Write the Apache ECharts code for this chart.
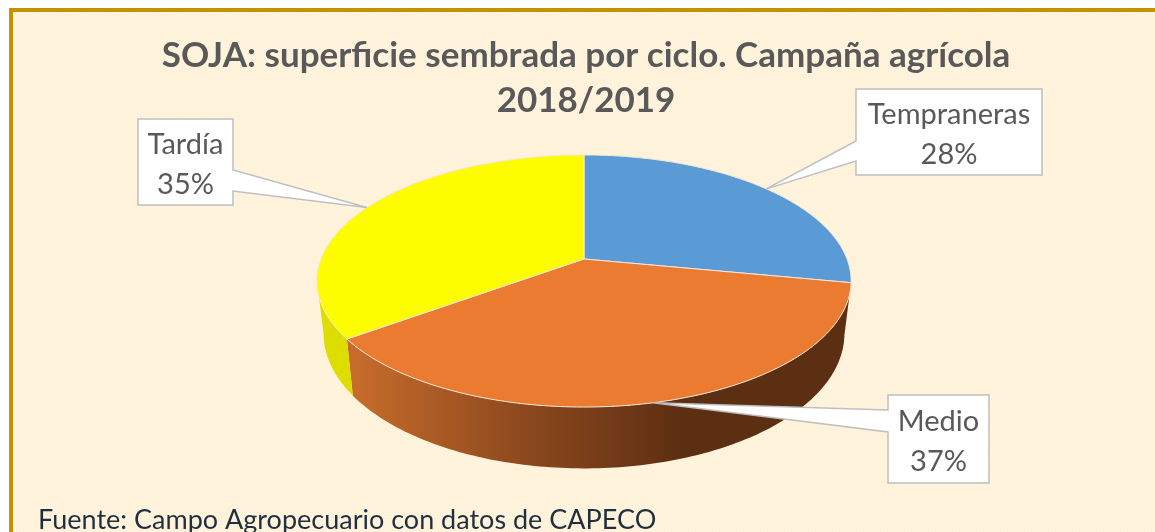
<!DOCTYPE html>
<html>
<head>
<meta charset="utf-8">
<style>
html,body{margin:0;padding:0;background:#fff;overflow:hidden}
#chart{width:1155px;height:532px}
</style>
<script src="https://cdn.jsdelivr.net/npm/echarts@6/dist/echarts.min.js"></script>
</head>
<body>
<div id="chart"></div>
<script>
const categories = ['Tempraneras', 'Medio', 'Tardía'];
const shares = [28, 37, 35];
const topColors = ['#5B9BD5', '#EB7B31', '#FDFD00'];
const titleLines = 'SOJA: superficie sembrada por ciclo. Campaña agrícola\n2018/2019';
const sourceText = 'Fuente: Campo Agropecuario con datos de CAPECO';

// label boxes: [left, top, right, bottom, side of pointer, pointer base start, pointer base end]
const boxes = [
  [856, 89, 1042, 175, 'left', 141, 161],
  [888, 395, 989, 483, 'left', 410, 432],
  [138, 119, 233, 205, 'right', 170, 191]
];

// perspective view of the disc
const CX = 584, APEX_Y = 259, RADIUS = 263, TILT = 122.2, PERSP = 0.1746;
const BASE_SCALE_X = 0.975, BASE_SCALE_Y = 1.07, BASE_APEX_Y = 310;

const total = shares.reduce((a, b) => a + b, 0);
function topPoint(deg) {
  const t = deg * Math.PI / 180, u = Math.sin(t), v = -Math.cos(t), d = 1 - PERSP * v;
  return [CX + RADIUS * u / d, APEX_Y + TILT * v / d];
}
function basePoint(deg) {
  const p = topPoint(deg);
  return [CX + BASE_SCALE_X * (p[0] - CX), BASE_APEX_Y + BASE_SCALE_Y * (p[1] - APEX_Y)];
}
function arc(fn, a, b) {
  const pts = [], n = Math.max(2, Math.ceil(Math.abs(b - a)));
  for (let i = 0; i <= n; i++) pts.push(fn(a + (b - a) * i / n));
  return pts;
}
function sliceRange(i) {
  let s = 0;
  for (let k = 0; k < i; k++) s += shares[k];
  return [s / total * 360, (s + shares[i]) / total * 360];
}

// fine dotted paper texture
const tex = document.createElement('canvas');
tex.width = 3; tex.height = 3;
const tc = tex.getContext('2d');
tc.fillStyle = '#FFF2D8'; tc.fillRect(0, 0, 3, 3);
tc.fillStyle = '#FFF7E8'; tc.fillRect(0, 0, 1, 1);
tc.fillStyle = '#FFF5E2'; tc.fillRect(1, 1, 1, 1);

const wallFill = i => i === 1
  ? new echarts.graphic.LinearGradient(352, 0, 685, 0, [
      { offset: 0, color: '#C76C2C' },
      { offset: 0.5, color: '#8E4A1E' },
      { offset: 1, color: '#5C2E12' }
    ], true)
  : '#DDDD00';

const chart = echarts.init(document.getElementById('chart'), null, { renderer: 'canvas' });
const pieData = categories.map((name, i) => ({ name, value: shares[i] }));

chart.setOption({
  animation: false,
  backgroundColor: '#fff',
  title: [
    { text: titleLines, left: 581, top: 28, textAlign: 'center',
      textStyle: { fontFamily: 'Lato', fontWeight: 'bold', fontSize: 35, lineHeight: 45, color: '#595959' } },
    { text: sourceText, left: 33, top: 502,
      textStyle: { fontFamily: 'Lato', fontWeight: 'normal', fontSize: 27, color: '#1F2F3F' } }
  ],
  graphic: [
    { type: 'rect', z: -10, silent: true, shape: { x: 9, y: 8, width: 1146, height: 524 }, style: { fill: '#C59100' } },
    { type: 'rect', z: -9, silent: true, shape: { x: 13, y: 12, width: 1142, height: 520 }, style: { fill: { image: tex, repeat: 'repeat' } } }
  ],
  series: [
    { // side wall
      type: 'custom', coordinateSystem: 'none', z: 2, silent: true, clip: false, data: pieData,
      renderItem(params) {
        const i = params.dataIndex;
        const [a0, b0] = sliceRange(i);
        const a = i === 1 ? a0 : 234, b = i === 1 ? b0 : 260;
        if (i === 0) return { type: 'group', children: [] };
        const pts = arc(topPoint, a, b).concat(arc(basePoint, b, a));
        return { type: 'polygon', shape: { points: pts }, style: { fill: wallFill(i), stroke: null } };
      }
    },
    { // top face
      type: 'custom', coordinateSystem: 'none', z: 3, silent: true, clip: false, data: pieData,
      renderItem(params) {
        const i = params.dataIndex;
        const [a, b] = sliceRange(i);
        const pts = [[CX, APEX_Y]].concat(arc(topPoint, a, b));
        return { type: 'polygon', shape: { points: pts },
          style: { fill: topColors[i], stroke: '#F8E6D6', lineWidth: 1, lineJoin: 'round' } };
      }
    },
    { // call-out labels
      type: 'custom', coordinateSystem: 'none', z: 5, silent: true, clip: false, data: pieData,
      renderItem(params, api) {
        const i = params.dataIndex;
        const [a, b] = sliceRange(i);
        const tip = topPoint((a + b) / 2);
        const [l, t, r, bt, side, p0, p1] = boxes[i];
        const pts = side === 'left'
          ? [[l, t], [r, t], [r, bt], [l, bt], [l, p1], tip, [l, p0]]
          : [[l, t], [r, t], [r, p0], tip, [r, p1], [r, bt], [l, bt]];
        return { type: 'group', children: [
          { type: 'polygon', shape: { points: pts },
            style: { fill: '#FFFFFF', stroke: '#BFBFBF', lineWidth: 1.5 } },
          { type: 'text', style: {
              x: (l + r) / 2, y: (t + bt) / 2 + 3,
              text: categories[i] + '\n' + api.value(0) + '%',
              align: 'center', verticalAlign: 'middle',
              fontFamily: 'Lato', fontSize: 29, lineHeight: 40, fill: '#595959' } }
        ] };
      }
    }
  ]
});
</script>
</body>
</html>
